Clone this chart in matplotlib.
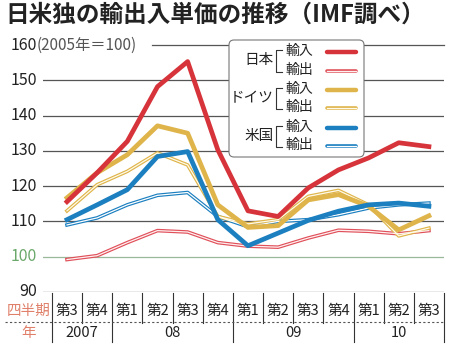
import matplotlib
matplotlib.use("Agg")
import matplotlib.pyplot as plt
from matplotlib.transforms import Affine2D, blended_transform_factory
from matplotlib.patches import FancyBboxPatch
from matplotlib.lines import Line2D

plt.rcParams['font.family'] = ['Noto Sans CJK JP', 'DejaVu Sans']

# データ（2005年＝100）
quarters = ["第3", "第4", "第1", "第2", "第3", "第4", "第1", "第2", "第3", "第4", "第1", "第2", "第3"]
years = ["2007", "08", "09", "10"]
year_spans = [(0, 2), (2, 6), (6, 10), (10, 13)]

japan_imp = [115.6, 123.8, 132.7, 148.2, 155.3, 130.3, 113.0, 111.4, 119.5, 124.6, 128.0, 132.3, 131.2]
japan_exp = [99.2, 100.3, 104.0, 107.4, 107.0, 104.0, 103.0, 102.7, 105.3, 107.5, 107.2, 106.5, 107.4]
germany_imp = [116.7, 123.8, 128.9, 137.1, 135.0, 114.7, 108.3, 108.8, 116.1, 117.6, 114.3, 107.6, 111.6]
germany_exp = [113.0, 120.4, 124.2, 129.4, 126.0, 111.4, 109.3, 110.5, 117.1, 118.8, 114.7, 105.9, 108.1]
us_imp = [110.5, 114.7, 119.0, 128.4, 129.8, 110.5, 103.1, 106.7, 110.3, 112.9, 114.7, 115.2, 114.3]
us_exp = [109.0, 111.0, 114.7, 117.4, 118.2, 111.4, 108.5, 110.0, 110.5, 111.9, 113.8, 114.7, 115.2]
y_ticks = [90, 100, 110, 120, 130, 140, 150, 160]

RED = '#d7333a'
YEL = '#dfb44a'
BLU = '#1b7fc0'
SALMON = '#e0806a'

W, H = 450, 347
fig = plt.figure(figsize=(W / 100, H / 100), dpi=100, facecolor='white')
# ピクセル座標（左上原点）
px = Affine2D().scale(1, -1).translate(0, H).scale(1 / W, 1 / H) + fig.transFigure

ax = fig.add_axes([43 / W, 1 - 292 / H, 401 / W, 247 / H])
ax.set_xlim(-0.796, 12.5)
ax.set_ylim(90, 160)
ax.set_axis_off()

x = list(range(len(quarters)))

# 目盛り線
grid_tr = blended_transform_factory(px, ax.transData)
for v in y_ticks:
    if v == 160:
        ax.plot([152, 444], [v, v], color='#555555', lw=0.9, transform=grid_tr, clip_on=False)
    elif v == 100:
        ax.axhline(v, color='#9bb89b', lw=0.9)
    else:
        ax.axhline(v, color='#555555', lw=0.9)

def double_line(vals, outer, inner):
    ax.plot(x, vals, color=outer, lw=2.6, solid_joinstyle='round', zorder=3)
    ax.plot(x, vals, color=inner, lw=0.9, solid_joinstyle='round', zorder=3.1)

double_line(japan_exp, '#e0505a', '#fff0f0')
double_line(us_exp, BLU, '#ffffff')
double_line(germany_exp, YEL, '#fffbea')
ax.plot(x, germany_imp, color=YEL, lw=3.4, solid_joinstyle='round', zorder=4)
ax.plot(x, us_imp, color=BLU, lw=3.4, solid_joinstyle='round', zorder=4.1)
ax.plot(x, japan_imp, color=RED, lw=3.4, solid_joinstyle='round', zorder=4.2)

# 縦軸ラベル
ylab = blended_transform_factory(fig.transFigure, ax.transData)
for v in y_ticks:
    col = '#6aa86a' if v == 100 else '#222222'
    fig.text(37 / W, v, str(v), transform=ylab, ha='right', va='center',
             fontsize=11.5, color=col)
fig.text(37, 45, "(2005年＝100)", transform=px, ha='left', va='center',
         fontsize=11, color='#555555')

# 横軸（四半期・年）
sep = blended_transform_factory(ax.transData, px)
for i in range(len(quarters) + 1):
    xi = i - 0.5
    major = i in (0, 2, 6, 10, 13)
    ax.plot([xi, xi], [293, 342 if major else 323], color='#333333', lw=0.8,
            transform=sep, clip_on=False)
for i, q in enumerate(quarters):
    ax.text(i, 311, q, transform=sep, ha='center', va='center', fontsize=10.5, color='#222222')
for (a, b), yl in zip(year_spans, years):
    ax.text((a + b - 1) / 2, 333, yl, transform=sep, ha='center', va='center',
            fontsize=10.5, color='#222222')
fig.add_artist(Line2D([5, 444], [322, 322], transform=px, color='#555555', lw=0.8,
                      linestyle=(0, (2, 2))))
fig.text(29, 311, "四半期", transform=px, ha='center', va='center', fontsize=10.5, color=SALMON)
fig.text(29, 333, "年", transform=px, ha='center', va='center', fontsize=10.5, color=SALMON)

# タイトル
fig.text(5, 15, "日米独の輸出入単価の推移（IMF調べ）", transform=px, ha='left', va='center',
         fontsize=17, fontweight='bold', color='#222222')

# 凡例
box = FancyBboxPatch((229, 40), 135, 117, boxstyle="round,pad=0,rounding_size=5",
                     transform=px, facecolor='white', edgecolor='#777777', lw=0.8, zorder=10)
fig.add_artist(box)
legend_rows = [
    ("日本", 60, (51, 70), ('line', RED), ('double', '#e0505a', '#fff0f0')),
    ("ドイツ", 98, (89, 107), ('line', YEL), ('double', YEL, '#fffbea')),
    ("米国", 136, (127, 145), ('line', BLU), ('double', BLU, '#ffffff')),
]
for name, yc, (y1, y2), imp_style, exp_style in legend_rows:
    fig.text(274, yc, name, transform=px, ha='right', va='center', fontsize=10.5, color='#222222', zorder=11)
    fig.add_artist(Line2D([282, 276, 276, 282], [y1 - 1, y1 - 1, y2 + 2, y2 + 2], transform=px,
                          color='#333333', lw=0.8, zorder=11))
    fig.text(285, y1, "輸入", transform=px, ha='left', va='center', fontsize=10, color='#222222', zorder=11)
    fig.text(285, y2, "輸出", transform=px, ha='left', va='center', fontsize=10, color='#222222', zorder=11)
    fig.add_artist(Line2D([327, 356], [y1 + 1, y1 + 1], transform=px, color=imp_style[1], lw=3.2,
                          solid_capstyle='round', zorder=11))
    fig.add_artist(Line2D([327, 356], [y2 + 1, y2 + 1], transform=px, color=exp_style[1], lw=2.6,
                          solid_capstyle='round', zorder=11))
    fig.add_artist(Line2D([327, 356], [y2 + 1, y2 + 1], transform=px, color=exp_style[2], lw=0.9,
                          zorder=11.1))

fig.savefig("out.png", dpi=100, facecolor='white')
